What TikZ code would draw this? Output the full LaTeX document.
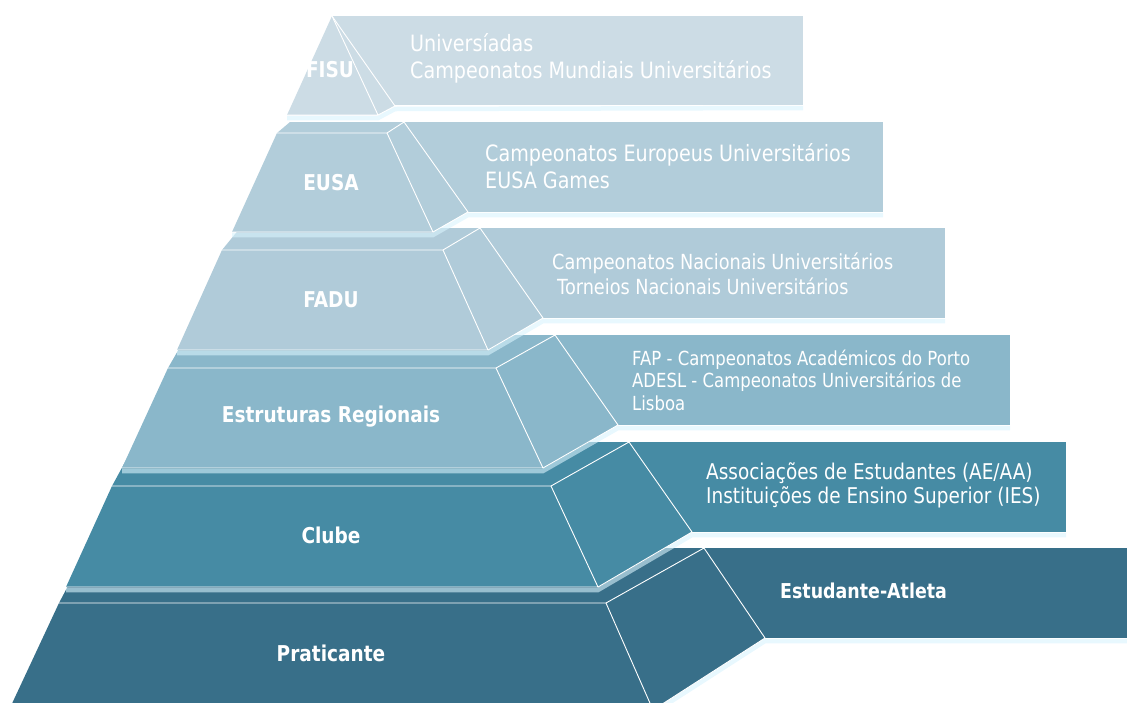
\documentclass[tikz,border=0pt]{standalone}
\usepackage{fontspec}
\setmainfont{DejaVu Sans}[FakeStretch=0.85]
\definecolor{fisuBlue}{HTML}{CCDCE5}
\definecolor{eusaBlue}{HTML}{B2CDDA}
\definecolor{faduBlue}{HTML}{B0CBD9}
\definecolor{regBlue}{HTML}{8AB7CA}
\definecolor{clubBlue}{HTML}{468BA4}
\definecolor{pratBlue}{HTML}{386F89}

% one step of the pyramid with its banner
% #1 colour, #2 front top left, #3 front top right, #4 front bottom left,
% #5 front bottom right, #6 top back left, #7 side top back,
% #8 side bottom back, #9 banner bottom right
\newcommand{\tier}[9]{%
  \fill[#1] (#7) rectangle (#9);
  \draw[glow, transform canvas={yshift=-3pt}] (#4) -- (#5) -- (#8) -- (#9);
  \fill[#1] (#2) -- (#3) -- (#7) -- (#6) -- cycle;
  \fill[#1] (#3) -- (#5) -- (#8) -- (#7) -- cycle;
  \fill[#1] (#2) -- (#3) -- (#5) -- (#4) -- cycle;
  \draw[edge] (#2) -- (#3) -- (#5) -- (#4);
  \draw[edge] (#3) -- (#7) -- (#8) -- (#5);
}

\begin{document}
\begin{tikzpicture}[x=1pt, y=-1pt,
    edge/.style={white, line width=0.9pt, line join=round},
    glow/.style={white!85!cyan, opacity=0.6, line width=4.5pt},
    tag/.style={text=white, font=\bfseries\fontsize{21.8}{26}\selectfont},
    info/.style={text=white, anchor=west, align=left, inner sep=0pt}]
    \useasboundingbox (0,0) rectangle (1127,702);
    \clip (0,0) rectangle (1127,702);

    % bottom step first, each upper step covers the one below
    \tier{pratBlue}{59,603}{606,603}{9,710}{653,710}{88,548}{704,548}{765,638}{1140,638}
    \tier{clubBlue}{112,486}{551,486}{66,587}{598,587}{136,442}{629,442}{692,532}{1066,532}
    \tier{regBlue}{168,368}{496,368}{122,468}{543,468}{187,335}{555,335}{618,425}{1010,425}
    \tier{faduBlue}{222,250}{443,250}{177,350}{488,350}{240,228}{480,228}{543,318}{945,318}
    \tier{eusaBlue}{277,133}{387,133}{232,232}{433,232}{290,122}{404,122}{468,212}{883,212}
    \tier{fisuBlue}{332,16}{332,16}{287,115}{378,115}{332,16}{332,16}{395,106}{803,105}

    % step names
    \node[tag] (fisu) at (330,70) {FISU};
    \node[tag] (eusa) at (331,183) {EUSA};
    \node[tag] (fadu) at (331,300) {FADU};
    \node[tag] (regional) at (331,417) {Estruturas Regionais};
    \node[tag] (clube) at (331,535) {Clube};
    \node[tag] (praticante) at (331,653) {Praticante};

    % banner texts
    \node[info, font=\fontsize{22.5}{27}\selectfont] (fisu-info) at (410,58)
        {Universíadas\\Campeonatos Mundiais Universitários};
    \node[info, font=\fontsize{22.5}{27}\selectfont] (eusa-info) at (485,166.5)
        {Campeonatos Europeus Universitários\\EUSA Games};
    \node[info, font=\fontsize{20.8}{25}\selectfont] (fadu-info) at (552,273.5)
        {Campeonatos Nacionais Universitários\\\hspace*{5pt}Torneios Nacionais Universitários};
    \node[info, font=\fontsize{19.4}{22.5}\selectfont] (regional-info) at (632,380)
        {FAP - Campeonatos Académicos do Porto\\ADESL - Campeonatos Universitários de\\Lisboa};
    \node[info, font=\fontsize{21.7}{23.5}\selectfont] (clube-info) at (706,485.5)
        {Associações de Estudantes (AE/AA)\\Instituições de Ensino Superior (IES)};
    \node[info, font=\bfseries\fontsize{20.5}{24}\selectfont] (praticante-info) at (780,591)
        {Estudante-Atleta};
\end{tikzpicture}
\end{document}
